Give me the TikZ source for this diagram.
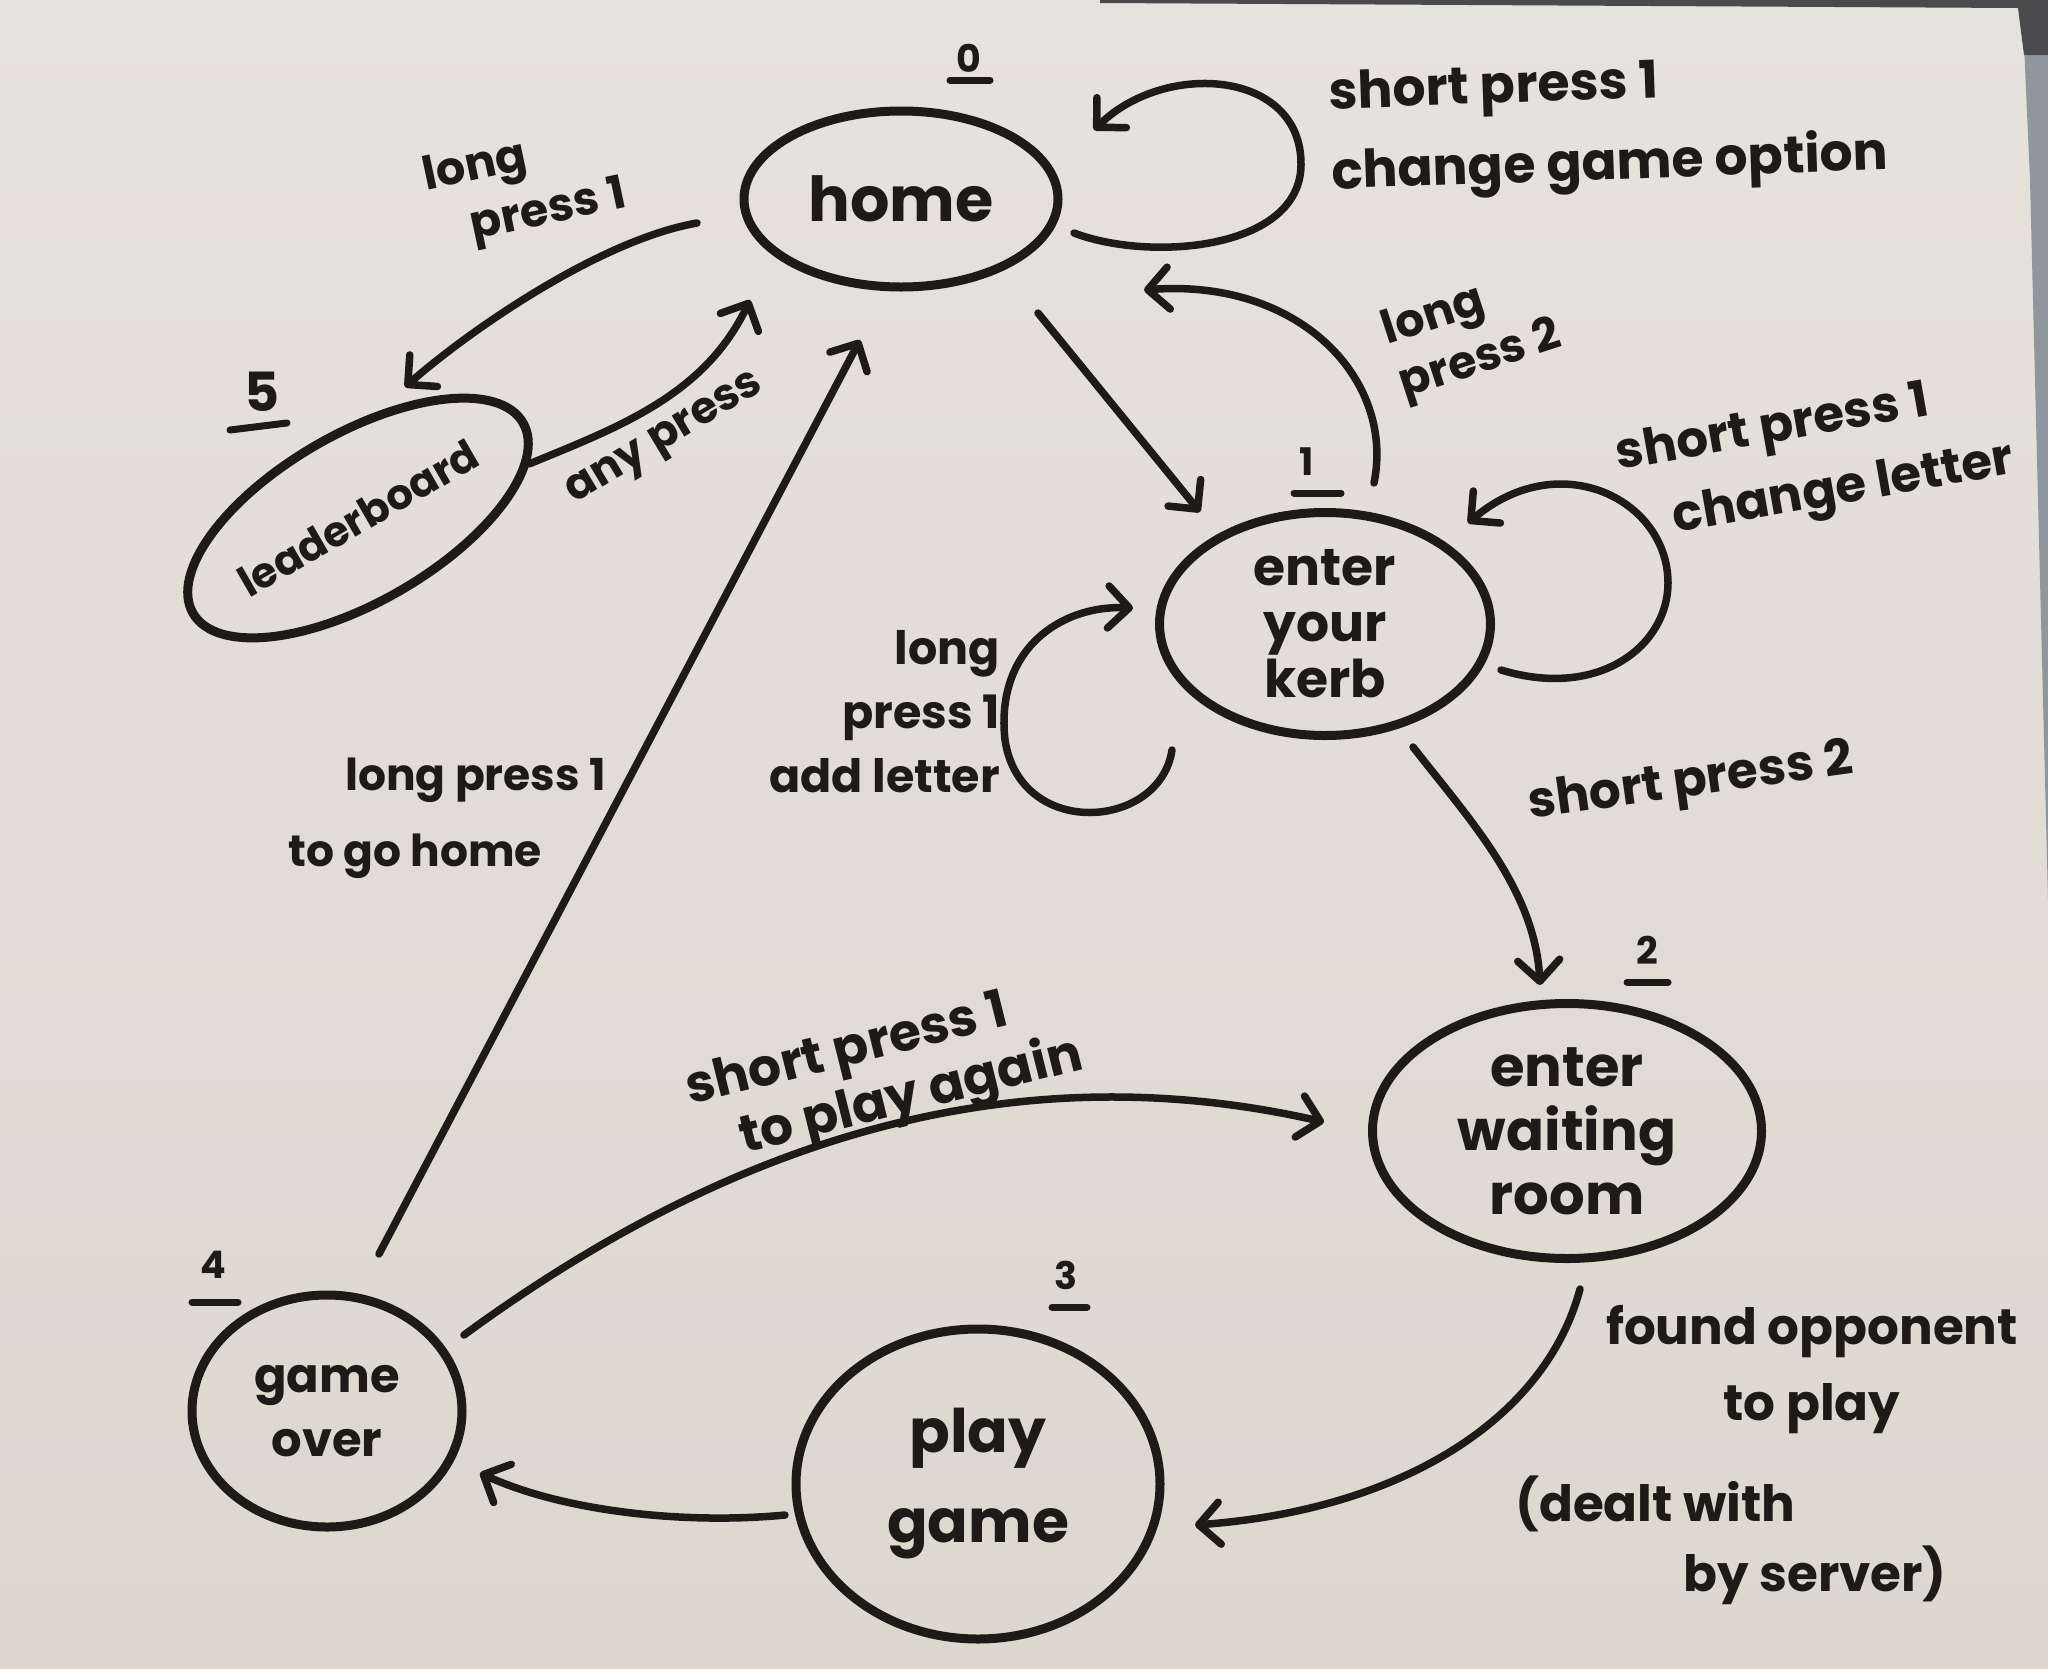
\documentclass[tikz,border=0pt]{standalone}
\usepackage{fontspec}
\setmainfont{Poppins}
\usetikzlibrary{shapes.geometric,arrows.meta,calc}
\definecolor{board}{HTML}{E6E2DC}
\definecolor{boardlow}{HTML}{DCD7CF}
\definecolor{ink}{HTML}{1E1A17}
\definecolor{framecol}{HTML}{8F969D}
\definecolor{framedark}{HTML}{4A4A4C}
\begin{document}
\begin{tikzpicture}[x=1pt,y=-1pt,
  state/.style={ellipse,draw=ink,line width=9pt,inner sep=0pt,align=center,text=ink},
  lbl/.style={text=ink,inner sep=0pt},
  num/.style={text=ink,inner sep=0pt,font=\bfseries\fontsize{38}{40}\selectfont},
  ul/.style={draw=ink,line width=7pt,line cap=round},
  arr/.style={draw=ink,line width=7.5pt,line cap=round,-{Straight Barb[length=21pt,width=42pt,round]}},
]
\shade[top color=board,bottom color=boardlow] (0,0) rectangle (2048,1668);
\useasboundingbox (0,0) rectangle (2048,1668);
% whiteboard frame at the top right
\fill[framecol] (2022,0) -- (2048,0) -- (2048,900) -- (2030,180) -- cycle;
\fill[framedark] (1100,0) -- (2048,0) -- (2048,55) -- (2024,55) -- (2018,8) -- (1100,3) -- cycle;

% states
\node[state,minimum width=314pt,minimum height=176pt,font=\bfseries\fontsize{62}{66}\selectfont] (home) at (901,199) {home};
\node[state,minimum width=320pt,minimum height=168pt,rotate=30,font=\bfseries\fontsize{42}{46}\selectfont] (lead) at (358,518) {leaderboard};
\node[state,minimum width=331pt,minimum height=223pt,font=\bfseries\fontsize{52}{56}\selectfont] (kerb) at (1325,624) {enter\\your\\kerb};
\node[state,minimum width=389pt,minimum height=255pt,font=\bfseries\fontsize{56}{64}\selectfont] (wait) at (1567,1131) {enter\\waiting\\room};
\node[state,minimum width=364pt,minimum height=310pt,font=\bfseries\fontsize{60}{90}\selectfont] (play) at (978,1484) {play\\game};
\node[state,minimum width=270pt,minimum height=232pt,font=\bfseries\fontsize{48}{64}\selectfont] (over) at (327,1411) {game\\over};

% state numbers
\node[num] (n0) at (969,58) {0};
\draw[ul] ($(n0)+(-19,22)$) -- ($(n0)+(21,22)$);
\node[num,font=\bfseries\fontsize{54}{58}\selectfont] (n5) at (262,392) {5};
\draw[ul] ($(n5)+(-32,38)$) -- ($(n5)+(25,31)$);
\node[num] (n1) at (1307,462) {1};
\draw[ul] ($(n1)+(-13,31)$) -- ($(n1)+(34,31)$);
\node[num] (n2) at (1647,950) {2};
\draw[ul] ($(n2)+(-20,32)$) -- ($(n2)+(21,32)$);
\node[num] (n3) at (1066,1275) {3};
\draw[ul] ($(n3)+(-14,32)$) -- ($(n3)+(21,32)$);
\node[num] (n4) at (213,1265) {4};
\draw[ul] ($(n4)+(-21,37)$) -- ($(n4)+(25,37)$);

% connectors
\draw[arr] ($(home)+(-204,24)$) .. controls (600,240) and (470,330) .. ($(lead)+(47,-131)$);
\draw[arr] ($(lead)+(171,-54)$) .. controls (619,427) and (705,395) .. ($(home)+(-151,101)$);
\draw[arr] ($(home)+(173,34)$) .. controls (1150,262) and (1300,250) .. (1301,165) .. controls (1302,70) and (1165,60) .. ($(home)+(193,-69)$);
\draw[arr] ($(home)+(137,114)$) -- ($(kerb)+(-125,-112)$);
\draw[arr] ($(kerb)+(49,-141)$) .. controls (1395,380) and (1300,278) .. ($(home)+(243,91)$);
\draw[arr] ($(kerb)+(176,46)$) .. controls (1600,700) and (1668,645) .. (1668,583) .. controls (1668,500) and (1560,445) .. ($(kerb)+(143,-101)$);
\draw[arr] ($(kerb)+(-153,126)$) .. controls (1160,830) and (1020,840) .. (1005,740) .. controls (995,650) and (1060,605) .. ($(kerb)+(-192,-16)$);
\draw[arr] ($(kerb)+(88,123)$) .. controls (1470,820) and (1535,890) .. ($(wait)+(-27,-146)$);
\draw[arr] ($(wait)+(13,158)$) .. controls (1545,1420) and (1400,1510) .. ($(play)+(217,41)$);
\draw[arr] ($(play)+(-193,31)$) .. controls (680,1525) and (560,1510) .. ($(over)+(153,62)$);
\draw[arr] ($(over)+(52,-157)$) -- ($(home)+(-41,141)$);
\draw[arr] ($(over)+(137,-76)$) .. controls (744,1130) and (1024,1054) .. ($(wait)+(-243,-9)$);

% labels
\node[lbl,align=left,rotate=12,font=\bfseries\fontsize{46}{58}\selectfont] (t1) at (525,188) {long\\\hspace*{36pt}press 1};
\node[lbl,rotate=31,font=\bfseries\fontsize{44}{50}\selectfont] (t2) at (666,441) {any press};
\node[lbl,align=left,anchor=west,rotate=2,font=\bfseries\fontsize{52}{80}\selectfont] (t3) at (1330,137) {short press 1\\change game option};
\node[lbl,align=left,rotate=18,font=\bfseries\fontsize{46}{56}\selectfont] (t4) at (1472,335) {long\\press 2};
\node[lbl,align=left,rotate=10,font=\bfseries\fontsize{50}{72}\selectfont] (t5) at (1815,460) {short press 1\\\hspace*{45pt}change letter};
\node[lbl,align=right,anchor=east,font=\bfseries\fontsize{46}{64}\selectfont] (t6) at (1000,712) {long\\press 1\\add letter};
\node[lbl,align=left,font=\bfseries\fontsize{44}{76}\selectfont] (t7) at (447,818) {\hspace*{57pt}long press 1\\to go home};
\node[lbl,rotate=8,font=\bfseries\fontsize{50}{56}\selectfont] (t8) at (1691,784) {short press 2};
\node[lbl,align=left,rotate=14,font=\bfseries\fontsize{52}{60}\selectfont] (t9) at (885,1075) {short press 1\\\hspace*{40pt}to play again};
\node[lbl,align=center,font=\bfseries\fontsize{50}{76}\selectfont] (t10) at (1812,1370) {found opponent\\to play};
\node[lbl,align=left,anchor=north west,font=\bfseries\fontsize{50}{70}\selectfont] (t11) at (1515,1476) {(dealt with\\\hspace*{168pt}by server)};
\end{tikzpicture}
\end{document}
